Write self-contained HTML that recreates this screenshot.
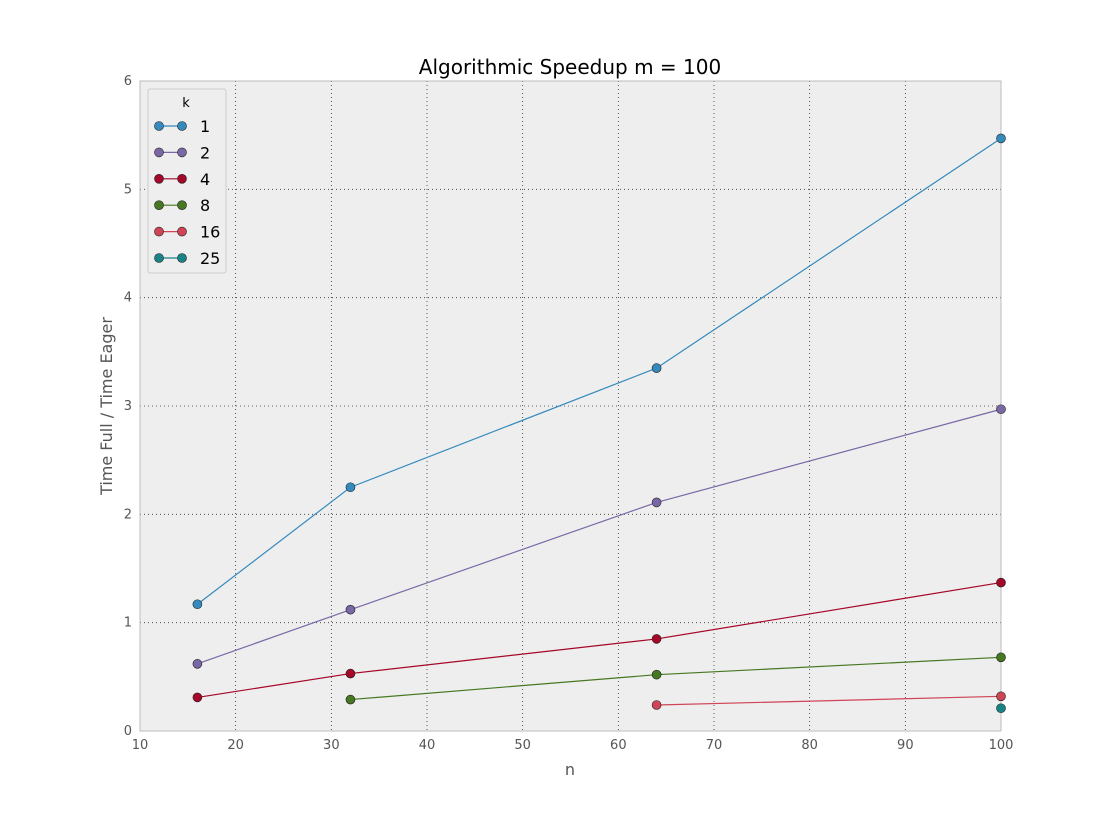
<!DOCTYPE html>
<html><head><meta charset="utf-8"><style>
body{margin:0;background:#fff;font-family:"Liberation Sans","DejaVu Sans",sans-serif;}
</style></head><body>
<svg id="chart" width="1112" height="812" xmlns="http://www.w3.org/2000/svg" font-family="DejaVu Sans, Liberation Sans, sans-serif">
<rect width="1112" height="812" fill="#fff"/>
<g id="plot"></g>
</svg>
<script>
const xTicks=[10,20,30,40,50,60,70,80,90,100];
const yTicks=[0,1,2,3,4,5,6];
const seriesNames=["1","2","4","8","16","25"];
const seriesColors=["#348ABD","#7A68A6","#A60628","#467821","#CF4457","#188487"];
const xK1=[16,32,64,100], yK1=[1.17,2.25,3.35,5.47];
const xK2=[16,32,64,100], yK2=[0.62,1.12,2.11,2.97];
const xK4=[16,32,64,100], yK4=[0.31,0.53,0.85,1.37];
const xK8=[32,64,100], yK8=[0.29,0.52,0.68];
const xK16=[64,100], yK16=[0.24,0.32];
const xK25=[100], yK25=[0.21];
const seriesX=[xK1,xK2,xK4,xK8,xK16,xK25];
const seriesY=[yK1,yK2,yK4,yK8,yK16,yK25];

const L=140,R=1001,T=81,B=731;
const sx=v=>L+(v-10)/(100-10)*(R-L);
const sy=v=>B-(v-0)/(6-0)*(B-T);
const NS="http://www.w3.org/2000/svg";
const g=document.getElementById('plot');
function mk(tag,attrs,parent){const e=document.createElementNS(NS,tag);for(const k in attrs)e.setAttribute(k,attrs[k]);(parent||g).appendChild(e);return e;}

const bg=mk('rect',{x:L,y:T,width:R-L,height:B-T,fill:'#EEEEEE'});



xTicks.forEach(t=>{
  const x=sx(t);
  if(t>10&&t<100){const l=mk('line',{x1:x,x2:x,y1:T,y2:B,stroke:'#333','stroke-width':0.8,'stroke-dasharray':'1,3'});
  
  }
  const tx=mk('text',{x:x,y:B+18,'text-anchor':'middle','font-size':13,fill:'#555'});tx.textContent=t;
  
  
});
yTicks.forEach(t=>{
  const y=sy(t);
  if(t>0&&t<6){const l=mk('line',{x1:L,x2:R,y1:y,y2:y,stroke:'#333','stroke-width':0.8,'stroke-dasharray':'1,3'});
  
  }
  const tx=mk('text',{x:L-8,y:y+4,'text-anchor':'end','font-size':13,fill:'#555'});tx.textContent=t;
  
  
});
const fr=mk('rect',{x:L,y:T,width:R-L,height:B-T,fill:'none',stroke:'#bcbcbc','stroke-width':1});



seriesX.forEach((xs,i)=>{
  const ys=seriesY[i],c=seriesColors[i];
  if(xs.length>1){
    const pl=mk('polyline',{points:xs.map((x,j)=>sx(x)+','+sy(ys[j])).join(' '),fill:'none',stroke:c,'stroke-width':1.2});
    
    
  }
  xs.forEach((x,j)=>{
    const p=mk('circle',{cx:sx(x),cy:sy(ys[j]),r:4.5,fill:c,stroke:'#222','stroke-width':0.6});
    
    
  });
});

const t=mk('text',{x:570,y:74,'text-anchor':'middle','font-size':20,fill:'#000'});t.textContent='Algorithmic Speedup m = 100';


const xl=mk('text',{x:570,y:775,'text-anchor':'middle','font-size':16,fill:'#555'});xl.textContent='n';


const yl=mk('text',{x:0,y:0,'text-anchor':'middle','font-size':16,fill:'#555',transform:'translate(112,406) rotate(-90)'});yl.textContent='Time Full / Time Eager';



const lg=mk('g',{});


mk('rect',{x:148,y:89,width:78,height:184,fill:'#EEEEEE',stroke:'#ccc','stroke-width':1,rx:2},lg);
const lt=mk('text',{x:186,y:107,'text-anchor':'middle','font-size':13,fill:'#000'},lg);lt.textContent='k';
seriesNames.forEach((n,i)=>{
  const y=126+i*26.4,c=seriesColors[i];
  const e=mk('g',{},lg);
  
  
  mk('line',{x1:159,x2:182,y1:y,y2:y,stroke:c,'stroke-width':1.2},e);
  mk('circle',{cx:159,cy:y,r:4.5,fill:c,stroke:'#222','stroke-width':0.6},e);
  mk('circle',{cx:182,cy:y,r:4.5,fill:c,stroke:'#222','stroke-width':0.6},e);
  const tx=mk('text',{x:200,y:y+6,'font-size':16,fill:'#000'},e);tx.textContent=n;
});
</script>
</body></html>
